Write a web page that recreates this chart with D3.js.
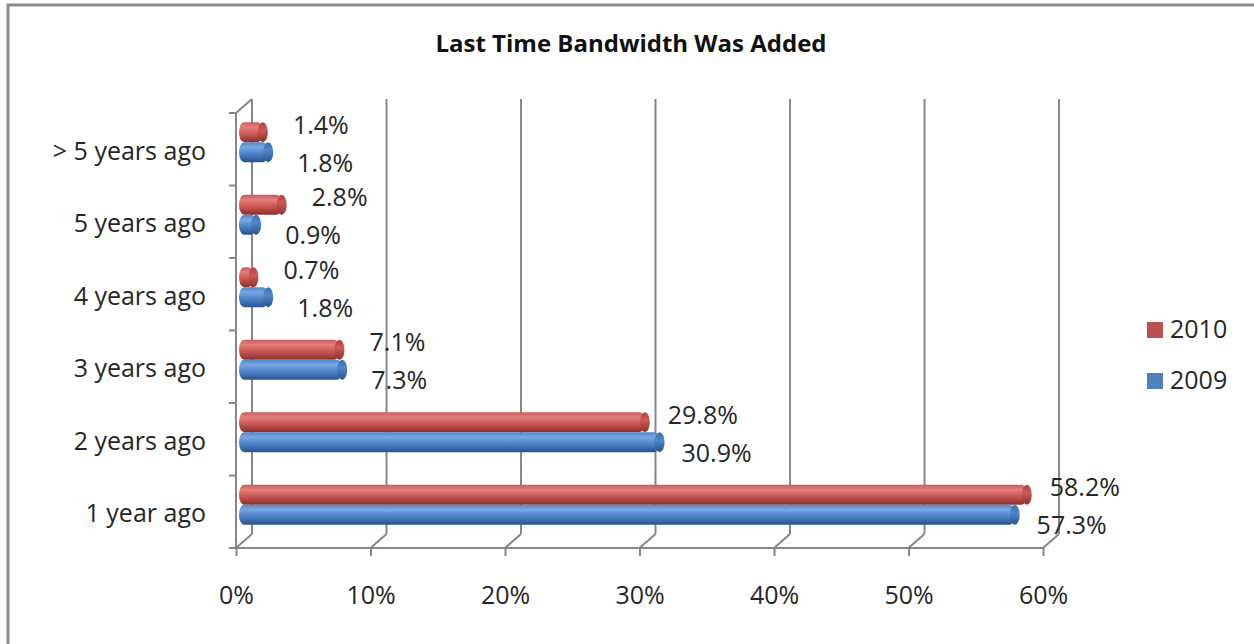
<!DOCTYPE html>
<html>
<head>
<meta charset="utf-8">
<script src="https://cdn.jsdelivr.net/npm/d3@7"></script>
<style>
  html, body { margin: 0; padding: 0; background: #fff; }
  svg { display: block; font-family: "Open Sans", Lato, sans-serif; }
</style>
</head>
<body>
<svg id="chart" width="1254" height="644"></svg>
<script>
// Survey answers: when bandwidth was last added
const categories = ["1 year ago", "2 years ago", "3 years ago", "4 years ago", "5 years ago", "> 5 years ago"];
const values2010 = [58.2, 29.8, 7.1, 0.7, 2.8, 1.4];
const values2009 = [57.3, 30.9, 7.3, 1.8, 0.9, 1.8];
const seriesNames = ["2010", "2009"];
const xTicks = [0, 10, 20, 30, 40, 50, 60];

const svg = d3.select("#chart");
const W = 1254, H = 644;
const FONT = "'Open Sans', Lato, sans-serif";
const FS = 25;

// 3-D box: front plane and the depth shift to the back wall
const front = { left: 236, right: 1043, top: 113, bottom: 548 };
const depth = { dx: 16, dy: -14 };
const gridColor = "#878787";
const textColor = "#262626";

const x = d3.scaleLinear().domain([0, 60]).range([front.left, front.right]);
const y = d3.scaleBand().domain(categories).range([front.bottom, front.top]);

// Series colours: light / base / dark for the cylinder shading
const palette = {
  "2010": { light: "#E3807D", base: "#CD5A57", dark: "#8A302D", cap: "#B6403D", key: "#C0504D" },
  "2009": { light: "#7AA7E0", base: "#4F86CD", dark: "#2A5388", cap: "#3E6FB0", key: "#4F81BD" }
};

const defs = svg.append("defs");
seriesNames.forEach(name => {
  const c = palette[name];
  const g = defs.append("linearGradient")
    .attr("id", "cyl" + name).attr("x1", 0).attr("y1", 0).attr("x2", 0).attr("y2", 1);
  g.append("stop").attr("offset", "0%").attr("stop-color", c.base);
  g.append("stop").attr("offset", "25%").attr("stop-color", c.light);
  g.append("stop").attr("offset", "55%").attr("stop-color", c.base);
  g.append("stop").attr("offset", "100%").attr("stop-color", c.dark);
  const gc = defs.append("linearGradient")
    .attr("id", "cap" + name).attr("x1", 0).attr("y1", 0).attr("x2", 0).attr("y2", 1);
  gc.append("stop").attr("offset", "0%").attr("stop-color", c.cap);
  gc.append("stop").attr("offset", "40%").attr("stop-color", c.base);
  gc.append("stop").attr("offset", "100%").attr("stop-color", c.dark);
});

// Outer frame
svg.append("rect")
  .attr("x", 8).attr("y", 5).attr("width", W + 20).attr("height", H + 20)
  .attr("fill", "#fff").attr("stroke", "#8a8a8a").attr("stroke-width", 3);

// Title
svg.append("text")
  .attr("x", 631).attr("y", 46)
  .attr("text-anchor", "middle").attr("dominant-baseline", "middle")
  .attr("font-size", 24).attr("font-weight", "bold").attr("fill", "#111")
  .text("Last Time Bandwidth Was Added");

const grid = svg.append("g").attr("stroke", gridColor).attr("stroke-width", 2).attr("fill", "none");

// Back-wall vertical gridlines and floor diagonals
xTicks.forEach(t => {
  const fx = x(t);
  grid.append("line")
    .attr("x1", fx + depth.dx).attr("x2", fx + depth.dx)
    .attr("y1", front.top + depth.dy).attr("y2", front.bottom + depth.dy);
  grid.append("line")
    .attr("x1", fx).attr("y1", front.bottom)
    .attr("x2", fx + depth.dx).attr("y2", front.bottom + depth.dy);
});

// Left front edge with category ticks and the top diagonal
grid.append("line")
  .attr("x1", front.left).attr("x2", front.left)
  .attr("y1", front.top).attr("y2", front.bottom);
grid.append("line")
  .attr("x1", front.left).attr("y1", front.top)
  .attr("x2", front.left + depth.dx).attr("y2", front.top + depth.dy);
const catEdges = categories.map(c => y(c)).concat([front.bottom]);
catEdges.forEach(e => {
  grid.append("line").attr("x1", front.left - 7).attr("x2", front.left).attr("y1", e).attr("y2", e);
});

// Bottom axis line with its ticks
const xAxis = d3.axisBottom(x).tickValues(xTicks).tickFormat(d => d + "%").tickSize(8).tickPadding(30);
const xg = svg.append("g").attr("transform", `translate(0,${front.bottom})`).call(xAxis);
xg.select(".domain").attr("stroke", gridColor).attr("stroke-width", 2).attr("d", `M${front.left},0H${front.right}`);
xg.selectAll(".tick line").attr("stroke", gridColor).attr("stroke-width", 2);
xg.selectAll(".tick text").attr("font-size", FS).attr("fill", textColor).attr("font-family", FONT);

// Category labels
svg.append("g").selectAll("text").data(categories).join("text")
  .attr("x", 206)
  .attr("y", d => y(d) + y.bandwidth() / 2 + 4)
  .attr("text-anchor", "end").attr("dominant-baseline", "middle")
  .attr("font-size", FS).attr("fill", textColor)
  .text(d => d);

// Bars sit halfway into the depth of the box
const mid = { dx: depth.dx / 2, dy: depth.dy / 2 };
const barH = 20;
const rx = 5;
const rows = [];
categories.forEach((c, i) => {
  const cy = y(c) + y.bandwidth() / 2 + mid.dy;
  rows.push({ series: "2010", cat: c, v: values2010[i], top: cy - barH });
  rows.push({ series: "2009", cat: c, v: values2009[i], top: cy });
});

const bars = svg.append("g");
rows.forEach(r => {
  const x0 = x(0) + mid.dx;
  const x1 = x(r.v) + mid.dx;
  const g = bars.append("g");
  g.append("rect")
    .attr("x", x0 - rx).attr("y", r.top)
    .attr("width", Math.max(x1 - x0 + rx, rx * 2)).attr("height", barH)
    .attr("rx", rx).attr("ry", barH / 2)
    .attr("fill", `url(#cyl${r.series})`);
  g.append("ellipse")
    .attr("cx", x1).attr("cy", r.top + barH / 2)
    .attr("rx", rx).attr("ry", barH / 2)
    .attr("fill", `url(#cap${r.series})`);
});

// Value labels next to the bar ends
const labels = svg.append("g").attr("font-size", FS).attr("fill", textColor).attr("text-anchor", "middle");
rows.forEach(r => {
  const endX = x(r.v) + mid.dx;
  const cy = r.top + barH / 2;
  labels.append("text")
    .attr("x", endX + (r.series === "2010" ? 58 : 57))
    .attr("y", cy + (r.series === "2010" ? -5 : 13))
    .attr("dominant-baseline", "middle")
    .text(r.v.toFixed(1) + "%");
});

// Legend
const legend = svg.append("g").attr("transform", "translate(1147,322)");
seriesNames.forEach((name, i) => {
  const row = legend.append("g").attr("transform", `translate(0,${i * 51})`);
  row.append("rect").attr("width", 16).attr("height", 16).attr("fill", palette[name].key);
  row.append("text").attr("x", 23).attr("y", 9).attr("dominant-baseline", "middle")
    .attr("font-size", FS).attr("fill", textColor).text(name);
});
</script>
</body>
</html>
